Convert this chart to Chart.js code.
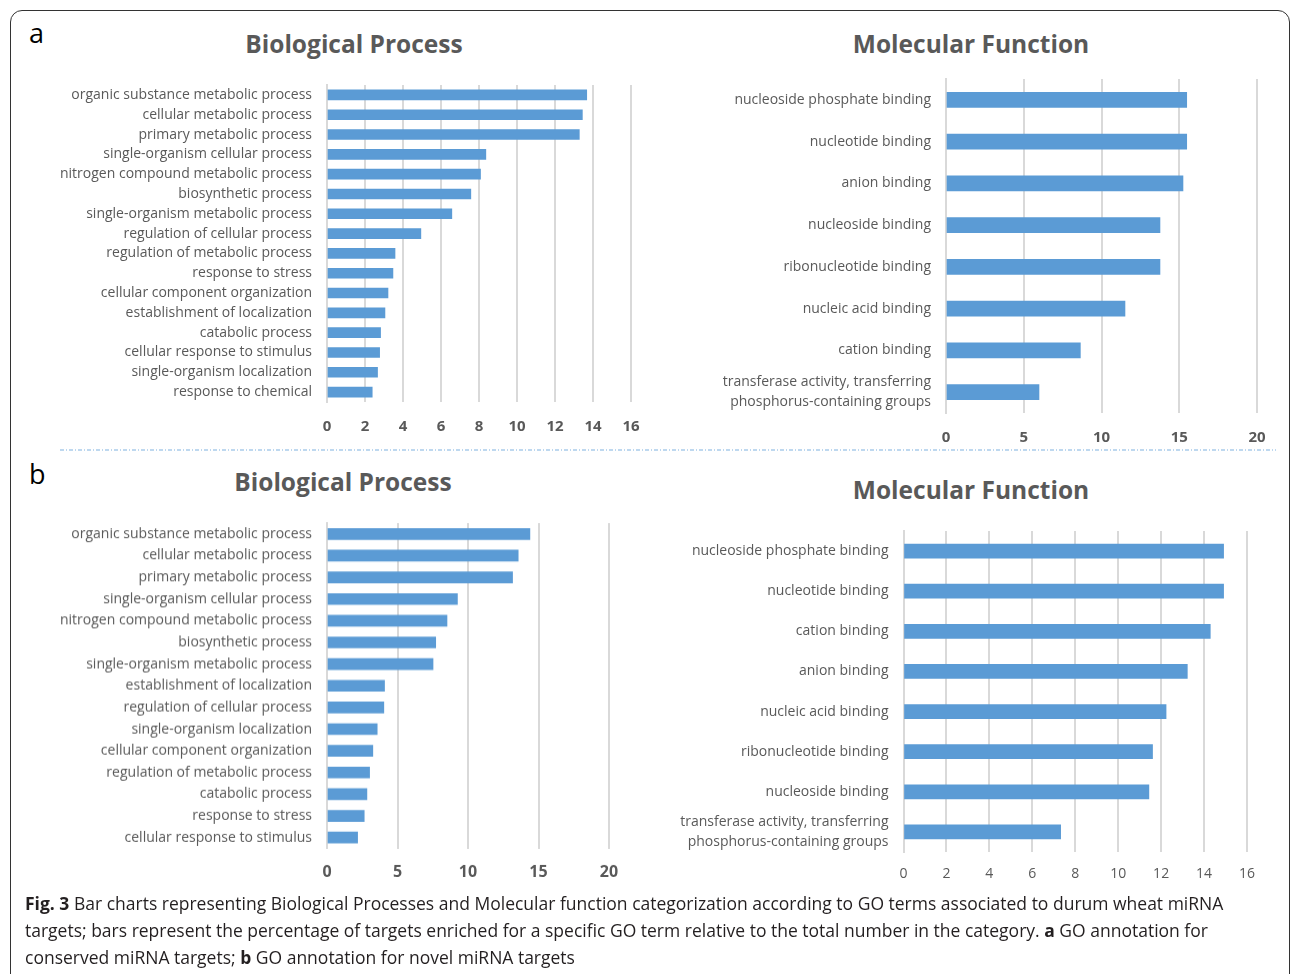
<!DOCTYPE html>
<html>
<head>
<meta charset="utf-8">
<script src="https://cdn.jsdelivr.net/npm/chart.js@4.4.1/dist/chart.umd.min.js"></script>
<style>
  body { margin: 0; background: #fff; font-family: "Open Sans", sans-serif; }
  #page { position: relative; width: 1290px; height: 974px; overflow: hidden; }
  .frame { position: absolute; left: 10px; top: 10px; width: 1280px; height: 1000px;
           border: 1.5px solid #333; border-radius: 12px; box-sizing: border-box; }
  .panel { position: absolute; font-size: 27px; color: #000; line-height: 1; }
  .title { position: absolute; font-weight: 700; font-size: 24.5px; color: #595959;
           transform: translate(-50%, -50%); white-space: nowrap; }
  .box { position: absolute; }
  .caption { position: absolute; left: 25px; top: 890px; width: 1215px;
             font-size: 17.5px; line-height: 27px; color: #231f20; }
</style>
</head>
<body>
<div id="page">
  <div class="frame"></div>
  <div class="panel" style="left:29px;top:19px;">a</div>
  <div class="panel" style="left:29px;top:460px;">b</div>
  <div class="title" style="left:354px;top:43px;">Biological Process</div>
  <div class="title" style="left:971px;top:43px;">Molecular Function</div>
  <div class="title" style="left:343px;top:481px;">Biological Process</div>
  <div class="title" style="left:971px;top:489px;">Molecular Function</div>
  <svg style="position:absolute;left:0;top:0;" width="1290" height="974">
    <line x1="60" y1="450" x2="1276" y2="450" stroke="#7fb1e0" stroke-width="1.2" stroke-dasharray="4,2,1,2"/>
  </svg>
  <div class="box" id="boxA1"><canvas id="chartA1"></canvas></div>
  <div class="box" id="boxA2"><canvas id="chartA2"></canvas></div>
  <div class="box" id="boxB1"><canvas id="chartB1"></canvas></div>
  <div class="box" id="boxB2"><canvas id="chartB2"></canvas></div>
  <div class="caption"><b>Fig. 3</b> Bar charts representing Biological Processes and Molecular function categorization according to GO terms associated to durum wheat miRNA targets; bars represent the percentage of targets enriched for a specific GO term relative to the total number in the category. <b>a</b> GO annotation for conserved miRNA targets; <b>b</b> GO annotation for novel miRNA targets</div>
</div>
<script>
// a: conserved miRNA targets
var bpLabelsA = ['organic substance metabolic process', 'cellular metabolic process', 'primary metabolic process',
  'single-organism cellular process', 'nitrogen compound metabolic process', 'biosynthetic process',
  'single-organism metabolic process', 'regulation of cellular process', 'regulation of metabolic process',
  'response to stress', 'cellular component organization', 'establishment of localization',
  'catabolic process', 'cellular response to stimulus', 'single-organism localization', 'response to chemical'];
var bpValuesA = [13.67, 13.44, 13.28, 8.36, 8.08, 7.57, 6.57, 4.94, 3.58, 3.47, 3.21, 3.05, 2.82, 2.77, 2.66, 2.38];

var mfLabelsA = ['nucleoside phosphate binding', 'nucleotide binding', 'anion binding', 'nucleoside binding',
  'ribonucleotide binding', 'nucleic acid binding', 'cation binding',
  ['transferase activity, transferring', 'phosphorus-containing groups']];
var mfValuesA = [15.48, 15.48, 15.24, 13.76, 13.76, 11.51, 8.64, 5.98];

// b: novel miRNA targets
var bpLabelsB = ['organic substance metabolic process', 'cellular metabolic process', 'primary metabolic process',
  'single-organism cellular process', 'nitrogen compound metabolic process', 'biosynthetic process',
  'single-organism metabolic process', 'establishment of localization', 'regulation of cellular process',
  'single-organism localization', 'cellular component organization', 'regulation of metabolic process',
  'catabolic process', 'response to stress', 'cellular response to stimulus'];
var bpValuesB = [14.39, 13.56, 13.16, 9.25, 8.51, 7.71, 7.52, 4.08, 4.03, 3.56, 3.25, 3.02, 2.83, 2.64, 2.17];

var mfLabelsB = ['nucleoside phosphate binding', 'nucleotide binding', 'cation binding', 'anion binding',
  'nucleic acid binding', 'ribonucleotide binding', 'nucleoside binding',
  ['transferase activity, transferring', 'phosphorus-containing groups']];
var mfValuesB = [14.91, 14.91, 14.29, 13.22, 12.23, 11.60, 11.43, 7.32];

var BLUE = '#5b9bd5';
var GRID = '#d9d9d9';
var TEXT = '#595959';

// build one horizontal bar chart so that its plot area lands on the given box
function makeChart(id, labels, values, o) {
  // the y labels ask for top room (half label + tick padding), so keep the top pad above that
  var padTop = 50, padRight = 25, xAxisH = 50;
  var box = document.getElementById('box' + id);
  var w = o.plotRight + padRight - o.left;
  var h = o.plotBottom - o.plotTop + padTop + xAxisH;
  box.style.left = o.left + 'px';
  box.style.top = (o.plotTop - padTop) + 'px';
  box.style.width = w + 'px';
  box.style.height = h + 'px';

  return new Chart(document.getElementById('chart' + id), {
    type: 'bar',
    data: {
      labels: labels,
      datasets: [{ data: values, backgroundColor: BLUE, barThickness: o.bar }]
    },
    options: {
      indexAxis: 'y',
      responsive: true,
      maintainAspectRatio: false,
      animation: false,
      layout: { padding: { top: padTop, right: padRight, left: 0, bottom: 0 } },
      plugins: { legend: { display: false }, tooltip: { enabled: false } },
      scales: {
        x: {
          min: 0, max: o.max,
          ticks: { stepSize: o.step, color: TEXT, padding: o.tickPad,
                   font: { family: 'Open Sans', size: o.tickSize, weight: o.tickWeight } },
          grid: { color: GRID, lineWidth: 2, drawTicks: false },
          border: { display: false },
          afterFit: function (s) { s.height = xAxisH; }
        },
        y: {
          ticks: { color: TEXT, padding: 15, autoSkip: false,
                   font: { family: 'Open Sans', size: 14, lineHeight: 1.4 } },
          grid: { display: false, drawTicks: false },
          border: { display: true, color: GRID, width: 2 },
          afterFit: function (s) { s.width = o.plotLeft - o.left; }
        }
      }
    }
  });
}

makeChart('A1', bpLabelsA, bpValuesA, {
  left: 20, plotLeft: 327, plotRight: 631, plotTop: 85, plotBottom: 402,
  max: 16, step: 2, bar: 10, tickPad: 16, tickSize: 15, tickWeight: 'bold'
});
makeChart('A2', mfLabelsA, mfValuesA, {
  left: 660, plotLeft: 946, plotRight: 1257, plotTop: 78.5, plotBottom: 412.5,
  max: 20, step: 5, bar: 15, tickPad: 16, tickSize: 15, tickWeight: 'bold'
});
makeChart('B1', bpLabelsB, bpValuesB, {
  left: 20, plotLeft: 327, plotRight: 609, plotTop: 523, plotBottom: 847.5,
  max: 20, step: 5, bar: 11, tickPad: 14, tickSize: 16, tickWeight: 'bold'
});
makeChart('B2', mfLabelsB, mfValuesB, {
  left: 640, plotLeft: 903.5, plotRight: 1247, plotTop: 530.5, plotBottom: 851.5,
  max: 16, step: 2, bar: 14, tickPad: 14, tickSize: 14, tickWeight: 'normal'
});
</script>
</body>
</html>
